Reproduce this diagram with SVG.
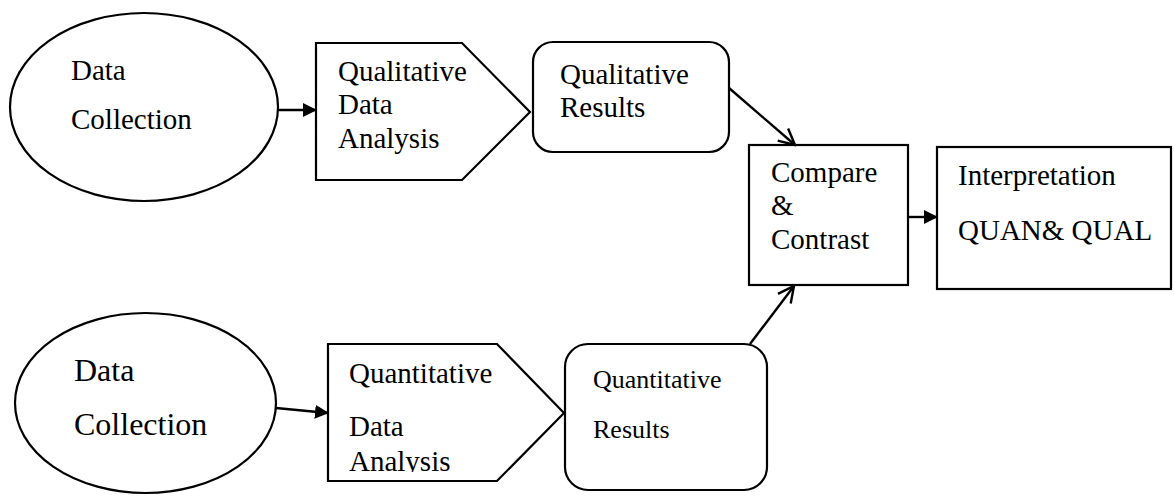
<svg xmlns="http://www.w3.org/2000/svg" width="1175" height="496" viewBox="0 0 1175 496">
<style>
.s{fill:#fff;stroke:#000;stroke-width:2.2}
.c{fill:none;stroke:#000;stroke-width:2.4}
.t{font-family:"Liberation Serif","Times New Roman",Tinos,"DejaVu Serif",serif;fill:#000;font-size:29px}
</style>
<defs>
<marker id="fill" markerWidth="14" markerHeight="14" refX="13" refY="7" orient="auto" markerUnits="userSpaceOnUse" viewBox="0 0 14 14">
<path d="M0,0 L14,7 L0,14 Z" fill="#000"/>
</marker>
<marker id="open" markerWidth="20" markerHeight="20" refX="18" refY="10" orient="auto" markerUnits="userSpaceOnUse" viewBox="0 0 20 20">
<path d="M2,2 L18,10 L2,18" fill="none" stroke="#000" stroke-width="2.4"/>
</marker>
<clipPath id="clipQ"><rect x="328" y="344" width="240" height="128"/></clipPath>
</defs>
<g id="dc1">
<ellipse class="s" cx="144" cy="107" rx="134" ry="94"/>
<text class="t" x="71" y="80">Data</text>
<text class="t" x="71" y="129">Collection</text>
</g>
<g id="qlda">
<path class="s" d="M316,43 L462,43 L530,112 L462,180 L316,180 Z"/>
<text class="t" x="338" y="81">Qualitative</text>
<text class="t" x="338" y="114">Data</text>
<text class="t" x="338" y="148">Analysis</text>
</g>
<g id="qlr">
<rect class="s" x="533" y="42" width="196" height="110" rx="20"/>
<text class="t" x="560" y="84">Qualitative</text>
<text class="t" x="560" y="117">Results</text>
</g>
<g id="cmp">
<rect class="s" x="749" y="145" width="159" height="140"/>
<text class="t" x="771" y="182">Compare</text>
<text class="t" x="771" y="215">&amp;</text>
<text class="t" x="771" y="249">Contrast</text>
</g>
<g id="interp">
<rect class="s" x="937" y="147" width="234" height="142"/>
<text class="t" x="958" y="185">Interpretation</text>
<text class="t" x="958" y="240">QUAN&amp; QUAL</text>
</g>
<g id="dc2">
<ellipse class="s" cx="145.5" cy="403" rx="130.5" ry="90"/>
<text class="t" x="74" y="381" style="font-size:32px">Data</text>
<text class="t" x="74" y="435" style="font-size:32px">Collection</text>
</g>
<g id="qnda">
<path class="s" d="M328,344 L497,344 L564,413 L497,481 L328,481 Z"/>
<g clip-path="url(#clipQ)">
<text class="t" x="349" y="383">Quantitative</text>
<text class="t" x="349" y="436">Data</text>
<text class="t" x="349" y="471">Analysis</text>
</g>
</g>
<g id="qnr">
<rect class="s" x="565" y="344" width="202" height="146" rx="23"/>
<text class="t" x="593" y="388" style="font-size:26px">Quantitative</text>
<text class="t" x="593" y="438" style="font-size:26px">Results</text>
</g>
<g id="connectors">
<line class="c" x1="278" y1="110" x2="316" y2="110" marker-end="url(#fill)"/>
<line class="c" x1="276" y1="408" x2="328" y2="413" marker-end="url(#fill)"/>
<line class="c" x1="729" y1="88" x2="795" y2="145" marker-end="url(#open)"/>
<line class="c" x1="750" y1="344" x2="794" y2="286" marker-end="url(#open)"/>
<line class="c" x1="908" y1="217" x2="937" y2="217" marker-end="url(#fill)"/>
</g>
</svg>
